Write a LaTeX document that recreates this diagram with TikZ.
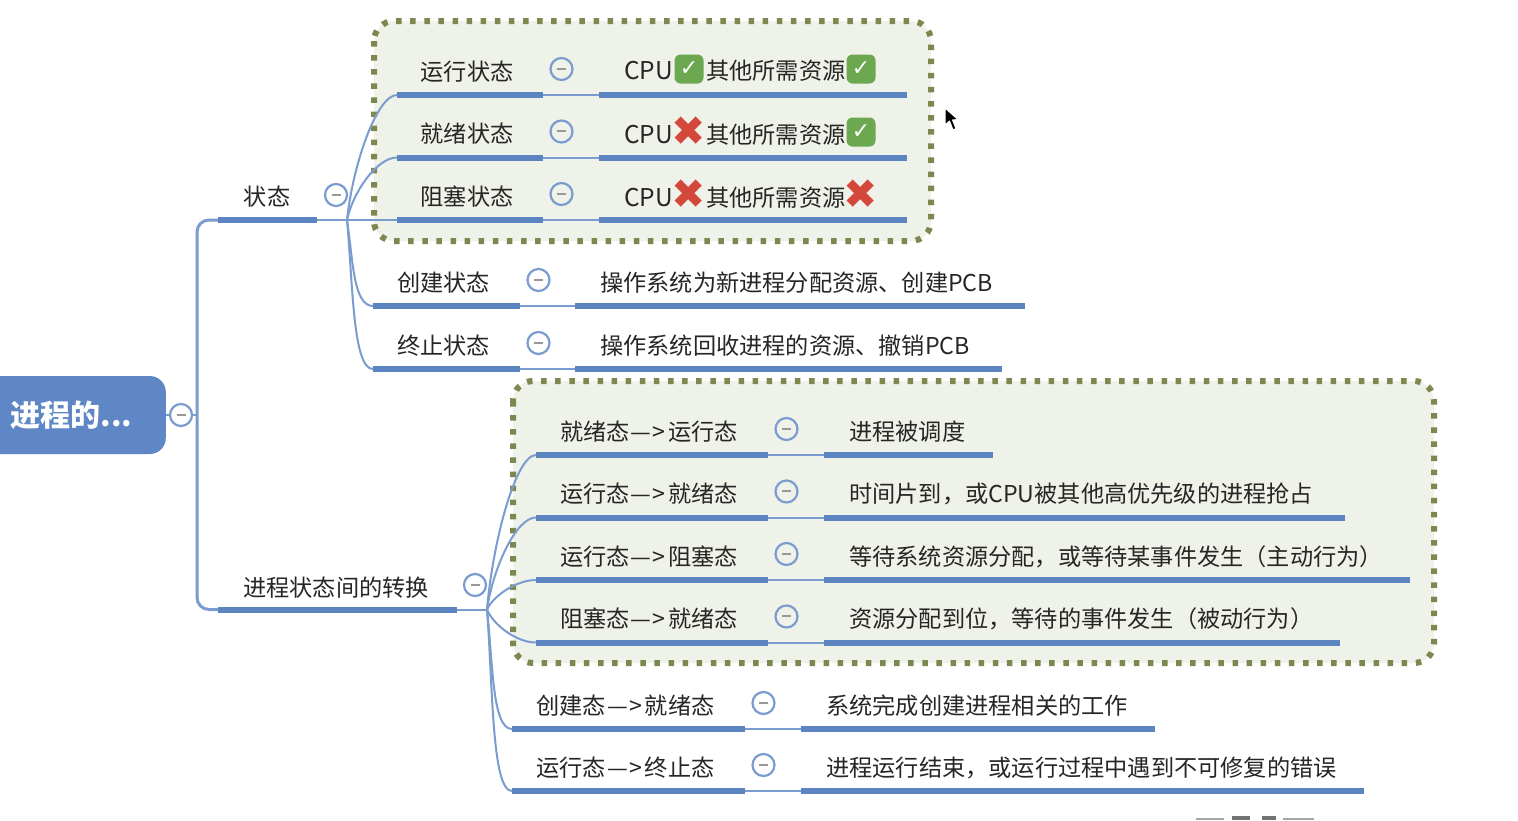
\documentclass[tikz,border=0pt]{standalone}
\usepackage{fontspec}
\setmainfont{Noto Sans CJK SC}
\newfontfamily\symfont{DejaVu Sans}
\definecolor{barblue}{HTML}{5B84C1}
\definecolor{linkblue}{HTML}{7A9CCF}
\definecolor{rootblue}{HTML}{5F87C5}
\definecolor{groupfill}{HTML}{EFF2E8}
\definecolor{olivedot}{HTML}{7D8750}
\definecolor{inktext}{HTML}{262626}
\definecolor{okgreen}{HTML}{6BA84F}
\definecolor{nored}{HTML}{D4483C}
\tikzset{
  bar/.style={fill=barblue,inner sep=0pt,outer sep=0pt,minimum height=6pt,anchor=west},
  link/.style={draw=linkblue,line width=2pt},
  spine/.style={draw=linkblue,line width=3pt},
  label/.style={text=inktext,inner sep=0pt,font=\fontsize{23.2}{26}\selectfont},
  groupbox/.style={draw=olivedot,fill=groupfill,line width=6pt,dash pattern=on 5.5pt off 8.6pt,rounded corners=20pt},
  collapse/.style={circle,draw=linkblue,line width=2.2pt,minimum size=22pt,inner sep=0pt},
  yes/.style={fill=okgreen,rounded corners=6pt,minimum width=29pt,minimum height=29pt,inner sep=0pt,text=white,font=\symfont\fontsize{22}{22}\selectfont},
  no/.style={text=nored,inner sep=0pt,font=\symfont\fontsize{41}{41}\selectfont},
  rootbox/.style={fill=rootblue,rounded corners=16pt,minimum width=186pt,minimum height=78pt,inner sep=0pt,text=white,font=\fontsize{30}{32}\selectfont\bfseries,anchor=east},
}
\newcommand{\Minus}{\textcolor{gray!80}{\rule[0.5pt]{9pt}{1.6pt}}}
\newcommand{\Arr}{\kern1pt—\kern1.5pt>\kern2.5pt}
% id, hub, bar1 left, bar1 right, bar2 left, bar2 right, bar y, label, right text
\newcommand{\Row}[9]{%
  \pgfmathsetmacro\wa{#4-#3}\pgfmathsetmacro\wb{#6-#5}%
  \pgfmathsetmacro\lx{(#3+#4)/2-3}\pgfmathsetmacro\ly{#7-23.5}%
  \pgfmathsetmacro\cx{#4+18.5}\pgfmathsetmacro\cy{#7-26}%
  \pgfmathsetmacro\tx{#5+25}%
  \node[bar,minimum width=\wa pt] (#1a) at (#3,#7) {};
  \node[bar,minimum width=\wb pt] (#1b) at (#5,#7) {};
  \draw[link] (#1a.east) -- (#1b.west);
  \path (#2); \pgfgetlastxy{\hx}{\hy}%
  \pgfmathsetmacro\dy{0.45*(#7+\hy)}%
  \draw[link] (#2) .. controls +(6,\dy) and +(-20,0) .. (#1a.west);
  \node[label] (#1l) at (\lx,\ly) {#8};
  \node[collapse] (#1c) at (\cx,\cy) {\Minus};
  \node[label,anchor=west] (#1t) at (\tx,\ly) {#9};
}
\begin{document}
\begin{tikzpicture}[x=1pt,y=-1pt]
\useasboundingbox (0,0) rectangle (1518,820);
\fill[white] (0,0) rectangle (1518,820);
% group frames
\draw[groupbox] (374,21) rectangle (931,241);
\draw[groupbox] (513,381) rectangle (1434,663);
% root and spine
\node[rootbox] (root) at (166,415) {\kern-3pt进程的...};
\node[bar,minimum width=99pt] (state) at (218,220) {};
\node[bar,minimum width=239pt] (trans) at (218,609.5) {};
\coordinate (spinept) at (197,415);
\draw[spine,rounded corners=12pt] (state.west) -- (197,220) -- (197,609.5) -- (trans.west);
\draw[link] (root.east) -- (spinept);
\node[collapse,fill=white] (rootc) at (181,415) {\Minus};
\coordinate (hubA) at (347,220);
\coordinate (hubB) at (487,609.5);
\draw[link] (state.east) -- (hubA);
\draw[link] (trans.east) -- (hubB);
\node[label] (statel) at (267,197) {状态};
\node[collapse,fill=white] (statec) at (336,195) {\Minus};
\node[label] (transl) at (336,588) {进程状态间的转换};
\node[collapse,fill=white] (transc) at (475,585) {\Minus};
% state rows
\Row{s1}{hubA}{397}{543}{599}{907}{95}{运行状态}{}
\Row{s2}{hubA}{397}{543}{599}{907}{157.5}{就绪状态}{}
\Row{s3}{hubA}{397}{543}{599}{907}{220}{阻塞状态}{}
\Row{s4}{hubA}{373}{520}{575}{1025}{306}{创建状态}{操作系统为新进程分配资源、创建PCB}
\Row{s5}{hubA}{373}{520}{575}{1002}{369}{终止状态}{操作系统回收进程的资源、撤销PCB}
% resource markers
\node[label,anchor=west,font=\fontsize{24.5}{26}\selectfont] (c1) at (624,71) {CPU};
\node[yes] (c1m) at (689,69) {✓};
\node[label,anchor=west] (r1) at (706,71) {其他所需资源};
\node[yes] (r1m) at (861,69) {✓};
\node[label,anchor=west,font=\fontsize{24.5}{26}\selectfont] (c2) at (624,134.5) {CPU};
\node[no] (c2m) at (689,131) {✖};
\node[label,anchor=west] (r2) at (706,134.5) {其他所需资源};
\node[yes] (r2m) at (861,132) {✓};
\node[label,anchor=west,font=\fontsize{24.5}{26}\selectfont] (c3) at (624,197.5) {CPU};
\node[no] (c3m) at (689,194) {✖};
\node[label,anchor=west] (r3) at (706,197.5) {其他所需资源};
\node[no] (r3m) at (861,194) {✖};
% transition rows
\Row{t1}{hubB}{536}{768}{824}{993}{455}{就绪态\Arr 运行态}{进程被调度}
\Row{t2}{hubB}{536}{768}{824}{1345}{517.5}{运行态\Arr 就绪态}{时间片到，或CPU被其他高优先级的进程抢占}
\Row{t3}{hubB}{536}{768}{824}{1410}{580}{运行态\Arr 阻塞态}{等待系统资源分配，或等待某事件发生（主动行为）}
\Row{t4}{hubB}{536}{768}{824}{1340}{642.5}{阻塞态\Arr 就绪态}{资源分配到位，等待的事件发生（被动行为）}
\Row{t5}{hubB}{512}{745}{801}{1155}{729}{创建态\Arr 就绪态}{系统完成创建进程相关的工作}
\Row{t6}{hubB}{512}{745}{801}{1364}{791}{运行态\Arr 终止态}{进程运行结束，或运行过程中遇到不可修复的错误}
% pointer
\draw[white,line width=1pt,fill=black,line join=round] (945,108) -- (945,125) -- (949.5,121) -- (953,130) -- (956,128.5) -- (952.5,120) -- (958,119.5) -- cycle;
% cut-off strokes at the lower edge
\fill[gray!70] (1196,818) rectangle (1224,820);
\fill[gray!70] (1283,818) rectangle (1314,820);
\fill[gray!90!black] (1232,816) rectangle (1250,820);
\fill[gray!90!black] (1262,816) rectangle (1276,820);
\end{tikzpicture}
\end{document}
